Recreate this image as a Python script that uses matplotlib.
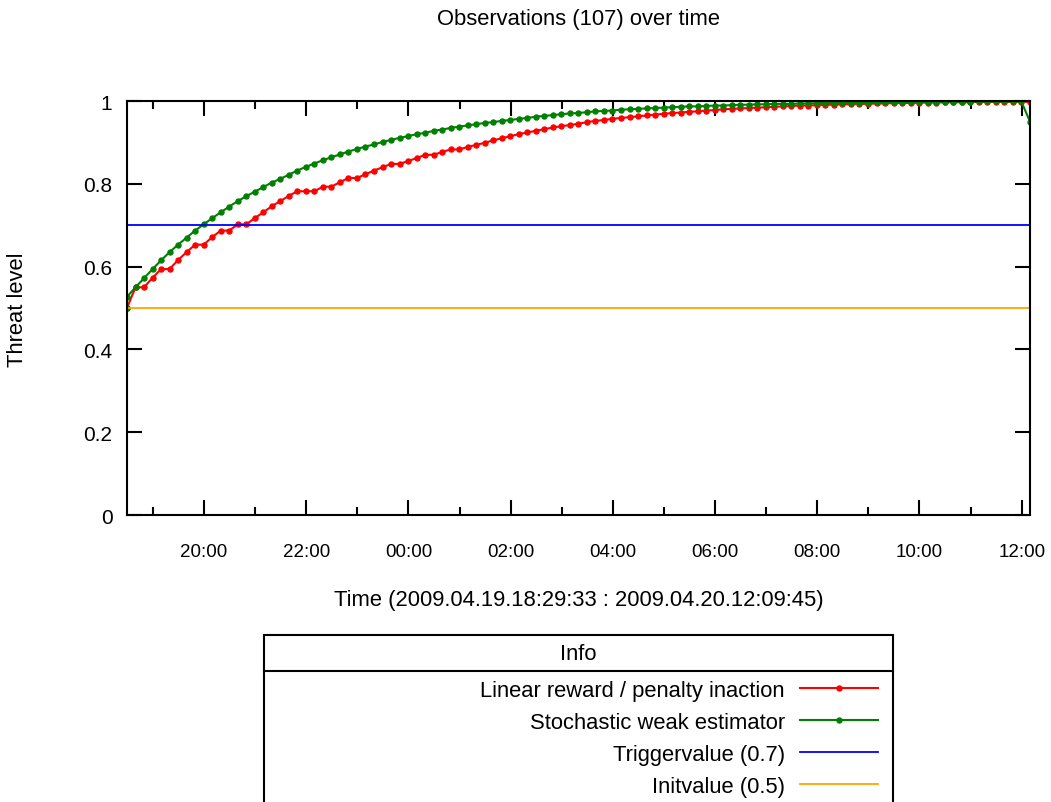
import pandas as pd
import matplotlib
matplotlib.use('Agg')
import matplotlib.pyplot as plt
import matplotlib.dates as mdates
from matplotlib.lines import Line2D
from matplotlib.patches import Rectangle

plt.rcParams['font.family'] = ['Liberation Sans', 'DejaVu Sans']

# observation times: one reading every 10 minutes, plus the final one
start = '2009-04-19 18:29:33'
end = '2009-04-20 12:09:45'
n_regular = 106

# Linear reward / penalty inaction
lrpi = [0.500, 0.550, 0.550, 0.573, 0.594, 0.594, 0.616, 0.635, 0.653, 0.653,
        0.671, 0.687, 0.687, 0.702, 0.702, 0.717, 0.731, 0.746, 0.758, 0.771,
        0.782, 0.782, 0.782, 0.793, 0.793, 0.804, 0.814, 0.814, 0.823, 0.832,
        0.840, 0.848, 0.848, 0.855, 0.862, 0.870, 0.870, 0.877, 0.883, 0.883,
        0.889, 0.894, 0.899, 0.905, 0.910, 0.915, 0.920, 0.924, 0.928, 0.932,
        0.936, 0.939, 0.942, 0.945, 0.949, 0.952, 0.954, 0.957, 0.959, 0.961,
        0.963, 0.965, 0.967, 0.969, 0.971, 0.972, 0.974, 0.975, 0.977, 0.978,
        0.980, 0.981, 0.982, 0.983, 0.984, 0.985, 0.986, 0.987, 0.988, 0.989,
        0.989, 0.990, 0.991, 0.991, 0.992, 0.992, 0.993, 0.993, 0.994, 0.994,
        0.995, 0.995, 0.995, 0.996, 0.996, 0.996, 0.997, 0.997, 0.997, 0.997,
        0.998, 0.998, 0.998, 0.998, 0.998, 0.998,
        0.998]

# Stochastic weak estimator (starts from the init value)
swe_init = 0.500
swe = [0.527, 0.550, 0.572, 0.594, 0.615, 0.635, 0.653, 0.670, 0.687, 0.702,
       0.717, 0.731, 0.745, 0.758, 0.770, 0.781, 0.792, 0.803, 0.812, 0.822,
       0.832, 0.841, 0.849, 0.857, 0.864, 0.871, 0.878, 0.884, 0.890, 0.895,
       0.901, 0.906, 0.911, 0.915, 0.920, 0.923, 0.928, 0.931, 0.935, 0.938,
       0.941, 0.944, 0.947, 0.949, 0.952, 0.954, 0.957, 0.959, 0.962, 0.964,
       0.966, 0.968, 0.970, 0.971, 0.973, 0.975, 0.976, 0.977, 0.979, 0.980,
       0.981, 0.982, 0.983, 0.984, 0.985, 0.986, 0.987, 0.987, 0.988, 0.989,
       0.989, 0.990, 0.991, 0.991, 0.992, 0.992, 0.993, 0.993, 0.993, 0.994,
       0.994, 0.995, 0.995, 0.995, 0.995, 0.996, 0.996, 0.996, 0.997, 0.997,
       0.997, 0.997, 0.997, 0.998, 0.998, 0.998, 0.998, 0.998, 0.998, 0.998,
       0.999, 0.999, 0.999, 0.999, 0.999, 0.999,
       0.950]

trigger = 0.7
init = 0.5

times = list(pd.date_range(start, periods=n_regular, freq='10min')) + [pd.Timestamp(end)]
swe_times = [pd.Timestamp(start)] + times
swe_vals = [swe_init] + swe

fs = 15.8

fig = plt.figure(figsize=(10.51, 8.03), dpi=100)
ax = fig.add_axes([127 / 1051, 1 - 516 / 803, 903 / 1051, 414 / 803])

l_red, = ax.plot(times, lrpi, color='#ff0000', lw=1.5, marker='o', ms=3.6,
                 label='Linear reward / penalty inaction')
l_green, = ax.plot(swe_times, swe_vals, color='#008000', lw=1.5, marker='o', ms=3.6,
                   label='Stochastic weak estimator')
l_blue = ax.axhline(trigger, color='#0000ff', lw=1.3, label='Triggervalue (0.7)')
l_orange = ax.axhline(init, color='#ffa500', lw=1.3, label='Initvalue (0.5)')

ax.set_xlim(pd.Timestamp(start), pd.Timestamp(end))
ax.set_ylim(0, 1)
ax.set_yticks([0, 0.2, 0.4, 0.6, 0.8, 1])
ax.set_yticklabels(['0', '0.2', '0.4', '0.6', '0.8', '1'])
ax.xaxis.set_major_locator(mdates.HourLocator(byhour=range(0, 24, 2)))
ax.xaxis.set_minor_locator(mdates.HourLocator())
ax.xaxis.set_major_formatter(mdates.DateFormatter('%H:%M'))

ax.tick_params(which='both', direction='in', top=True, right=True, width=1.5)
ax.tick_params(axis='x', which='major', length=11, pad=20, labelsize=13.5)
ax.tick_params(axis='x', which='minor', length=5.5)
ax.tick_params(axis='y', which='major', length=11, pad=10.5, labelsize=15)
for s in ax.spines.values():
    s.set_linewidth(1.5)

cx = (127 + 1030) / 2 / 1051
fig.text(cx, 1 - 19 / 803, 'Observations (107) over time', ha='center', va='center', fontsize=fs)
fig.text(cx, 1 - 601 / 803, 'Time (2009.04.19.18:29:33 : 2009.04.20.12:09:45)',
         ha='center', va='center', fontsize=fs)
fig.text(18 / 1051, 1 - 310 / 803, 'Threat level', rotation=90, ha='center', va='center', fontsize=fs)

# legend box with title row
fig.patches.append(Rectangle((264 / 1051, -0.05), 629 / 1051, 0.05 + 1 - 636 / 803,
                             transform=fig.transFigure, fill=False, lw=1.5, ec='black'))
fig.lines.append(Line2D([264 / 1051, 893 / 1051], [1 - 672 / 803] * 2,
                        transform=fig.transFigure, color='black', lw=1.5))
fig.text(cx, 1 - 655 / 803, 'Info', ha='center', va='center', fontsize=fs)

fig.legend(handles=[l_red, l_green, l_blue, l_orange], loc='upper right',
           bbox_to_anchor=(878 / 1051, 1 - 681 / 803), frameon=False,
           markerfirst=False, numpoints=1, fontsize=fs, handlelength=3.56,
           handletextpad=0.68, labelspacing=0.5, borderpad=0, borderaxespad=0)

fig.savefig('out.png', dpi=100)
